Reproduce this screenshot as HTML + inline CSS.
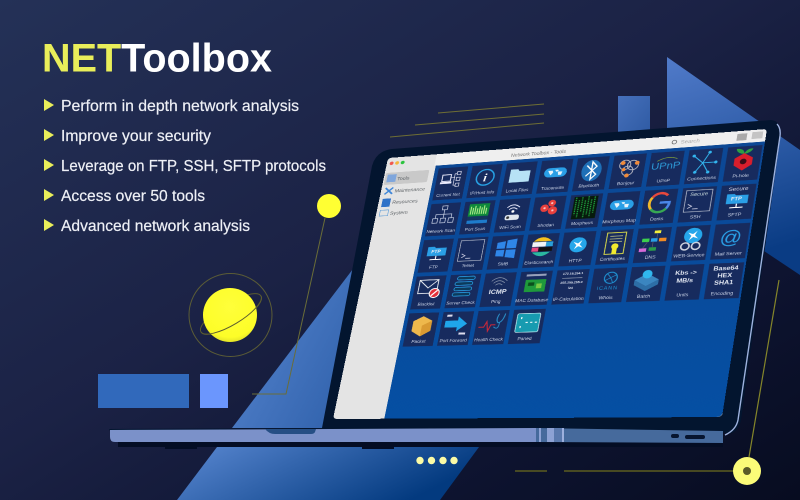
<!DOCTYPE html>
<html><head><meta charset="utf-8"><title>NET Toolbox</title>
<style>
html,body{margin:0;padding:0;background:#141a38}
#p{position:relative;width:800px;height:500px;overflow:hidden;font-family:"Liberation Sans",sans-serif}
#p>svg{position:absolute;left:0;top:0}
#w{position:absolute;left:0;top:0;width:500px;height:400px;transform-origin:0 0;
transform:matrix3d(0.6138,-0.08226,0,-0.000188,-0.16795,0.61418,0,-0.00009145,0,0,1,0,388,158,0,1)}
.l{font-size:6.4px;fill:#ccd5e8;text-anchor:middle;font-family:"Liberation Sans",sans-serif}
.s{font-size:7.6px;fill:#5f6468;font-family:"Liberation Sans",sans-serif}
.b{font-weight:bold;fill:#e6ebf5;text-anchor:middle;font-family:"Liberation Sans",sans-serif}
</style></head><body><div id="p">
<svg width="800" height="500" viewBox="0 0 800 500">
<defs>
<linearGradient id="bg" x1="0" y1="0" x2="1" y2="1"><stop offset="0" stop-color="#243157"/><stop offset=".45" stop-color="#1b2245"/><stop offset=".75" stop-color="#0e1431"/><stop offset="1" stop-color="#070c20"/></linearGradient>
<linearGradient id="t1" x1="0" y1="0" x2="1" y2=".5"><stop offset="0" stop-color="#5a88d2"/><stop offset="1" stop-color="#2c5ea8"/></linearGradient>
<linearGradient id="t2" x1="0" y1="0" x2="1" y2=".35"><stop offset="0" stop-color="#5a88d2"/><stop offset="1" stop-color="#033a7f"/></linearGradient>
<linearGradient id="t3" x1="0" y1="0" x2=".2" y2="1"><stop offset="0" stop-color="#517bca"/><stop offset="1" stop-color="#0a3c84"/></linearGradient>
<linearGradient id="sq" x1="0" y1="0" x2="1" y2="1"><stop offset="0" stop-color="#4670bb"/><stop offset="1" stop-color="#2e5aa3"/></linearGradient>
<radialGradient id="pl" cx=".5" cy=".35" r=".7"><stop offset="0" stop-color="#ffff3a"/><stop offset=".8" stop-color="#fdfd28"/><stop offset="1" stop-color="#d8d828"/></radialGradient>
</defs>
<rect width="800" height="500" fill="url(#bg)"/>
<polygon points="667,57 800,150 800,275 740,235 667,200" fill="url(#t3)"/>
<rect x="618" y="96" width="32" height="40" fill="url(#sq)"/>
<polygon points="356,265 232,428 400,428 400,265" fill="url(#t1)"/>
<polygon points="217,447 479,447 440,500 177,500" fill="url(#t2)"/>
<g stroke="#6e6e34" stroke-width="1" fill="none">
<line x1="438" y1="113" x2="544" y2="104"/><line x1="415" y1="125" x2="544" y2="114"/><line x1="390" y1="137" x2="544" y2="123"/>
</g>
<polyline points="325,218 286,394 252,394" fill="none" stroke="#6a6d38" stroke-width="1"/>
<circle cx="329" cy="206" r="12" fill="#ffff33"/>
<circle cx="230.500" cy="315" r="41.500" fill="none" stroke="#5b5c36" stroke-width="1"/>
<ellipse cx="231" cy="314" rx="35" ry="11" transform="rotate(-31 231 314)" fill="none" stroke="#5b5c30" stroke-width="1"/>
<circle cx="230" cy="315" r="27" fill="url(#pl)"/>
<path d="M201,332 A35,11 -31 0 0 261,296" fill="none" stroke="#5b5c30" stroke-width="1"/>
<rect x="98" y="374" width="91" height="34" fill="#3169bb"/>
<rect x="200" y="374" width="28" height="34" fill="#6b96fd"/>
<g fill="#fbfba6"><circle cx="420" cy="460.500" r="3.700"/><circle cx="431.500" cy="460.500" r="3.700"/><circle cx="443" cy="460.500" r="3.700"/><circle cx="454" cy="460.500" r="3.700"/></g>
<g stroke="#5c5d20" stroke-width="1.400" fill="none"><line x1="515" y1="471" x2="547" y2="471"/><line x1="564" y1="471" x2="735" y2="471"/></g>
<line x1="749" y1="457" x2="779" y2="280" stroke="#85862a" stroke-width="1.200"/>
<circle cx="747" cy="471" r="14" fill="#fbfb78"/><circle cx="747" cy="471" r="4" fill="#5a5a28"/>
<!-- laptop lid -->
<path d="M779,127 Q779,121 771,120 L392,149 Q376,151 372,166 L322,428 L732,433 Q739,430 741,420 L780,140 Z" fill="#03152f"/>
<path d="M777,124 Q781,128 780,136 L738,420 Q736,430 725,435" fill="none" stroke="#9db2de" stroke-width="1.400"/>
<!-- base -->
<rect x="118" y="441" width="605" height="6" fill="#040d24"/>
<rect x="165" y="446" width="32" height="3" fill="#040d24"/><rect x="362" y="446" width="32" height="3" fill="#040d24"/>
<path d="M109,429 L535,427 L535,430 L110,431 Z" fill="#03152f"/>
<path d="M110,430 L536,428 L536,442 L115,442 Q110,442 110,437 Z" fill="#7b91c9"/>
<path d="M536,428 L723,431 L723,443 L536,442 Z" fill="#466a9c"/>
<rect x="539" y="428" width="2" height="14" fill="#8da2d4"/><rect x="547" y="428" width="7" height="14" fill="#8da2d4"/><rect x="554" y="428" width="8" height="14" fill="#5a79ad"/><rect x="562" y="428" width="2" height="14" fill="#9db0dd"/>
<path d="M265,429 L316,429 L315,432 Q314,434 311,434 L275,434 Q269,434 265,429 Z" fill="#264f85"/>
<rect x="671" y="434" width="8" height="4" rx="2" fill="#07152f"/><rect x="685" y="435" width="20" height="4" rx="2" fill="#07152f"/>
<!-- text -->
<text x="42" y="71.500" font-size="40" font-weight="bold" textLength="230" lengthAdjust="spacingAndGlyphs"><tspan fill="#e9ee5a">NET</tspan><tspan fill="#fff">Toolbox</tspan></text>
<g fill="#eef0f6" font-size="16" stroke="#eef0f6" stroke-width=".2">
<text x="61" y="111" textLength="238" lengthAdjust="spacingAndGlyphs">Perform in depth network analysis</text>
<text x="61" y="141" textLength="150" lengthAdjust="spacingAndGlyphs">Improve your security</text>
<text x="61" y="171" textLength="265" lengthAdjust="spacingAndGlyphs">Leverage on FTP, SSH, SFTP protocols</text>
<text x="61" y="201" textLength="144" lengthAdjust="spacingAndGlyphs">Access over 50 tools</text>
<text x="61" y="231" textLength="189" lengthAdjust="spacingAndGlyphs">Advanced network analysis</text>
</g>
<g fill="#e9ee5a">
<polygon points="44,99 54,105 44,111"/><polygon points="44,129 54,135 44,141"/><polygon points="44,159 54,165 44,171"/><polygon points="44,189 54,195 44,201"/><polygon points="44,219 54,225 44,231"/>
</g>
</svg>
<div id="w"><svg width="500" height="400" viewBox="0 0 500 400">
<defs>
<linearGradient id="sc" x1="0" y1="0" x2="0" y2="1"><stop offset="0" stop-color="#0c4895"/><stop offset="1" stop-color="#054fa3"/></linearGradient>
<g id="tile"><rect width="41.400" height="49.600" fill="#172b5e"/></g>
<g id="map"><rect x="-15" y="-7" width="30" height="14" rx="7" fill="#2a9fe6"/><path d="M-10,-3 h6 l1,3 -3,4 -2,-3 z M-1,-4 h4 l1,2 -3,1 z M3,-1 h6 l-1,5 -4,0 z" fill="#e8f4fc"/></g>
<g id="cir"><circle r="11" fill="#25a6ea"/><path d="M0,-8 L1.500,-1.500 L8,0 L1.500,1.500 L0,8 L-1.500,1.500 L-8,0 L-1.500,-1.500 Z" fill="#fff" transform="rotate(35)"/></g>
<g id="ftp"><path d="M-13,-8 h9 l2,2 h15 v12 h-26 z" fill="#2a9fe6"/><line x1="0" y1="6" x2="0" y2="11" stroke="#fff" stroke-width="1.500"/><line x1="-8" y1="11.500" x2="8" y2="11.500" stroke="#fff" stroke-width="1.500"/></g>
</defs>
<rect width="500" height="400" rx="5" fill="#e4e4e4"/>
<path d="M70,0 H495 Q500,0 500,5 V18 H70 Z" fill="#efefef"/>
<path d="M72,18 H500 V393 Q500,400 493,400 H72 Z" fill="url(#sc)"/>
<circle cx="7" cy="9" r="2.800" fill="#f0584f"/><circle cx="15" cy="9" r="2.800" fill="#f5b63a"/><circle cx="23" cy="9" r="2.800" fill="#2cc43f"/>
<rect x="2" y="24" width="62" height="19" rx="2" fill="#c9c9c9"/>
<rect x="5" y="27" width="13" height="12" fill="#7fa6dc"/>
<path d="M6,48 l11,10 M17,48 l-11,10" stroke="#3e86d8" stroke-width="2.500"/>
<rect x="5" y="65" width="12" height="13" fill="#2f72c8"/>
<rect x="5" y="83" width="12" height="9" fill="none" stroke="#6aa3d8"/>
<g class="s"><text x="20" y="37">Tools</text><text x="20" y="56">Maintenance</text><text x="20" y="74">Resources</text><text x="20" y="91">System</text></g>
<text x="212" y="13" text-anchor="middle" font-size="7" fill="#777">Network Toolbox - Tools</text>
<circle cx="388" cy="9" r="2.800" fill="none" stroke="#666" stroke-width="1"/>
<text x="396" y="12" font-size="7.500" fill="#aaa">Search</text>
<rect x="465" y="4" width="12" height="10" fill="#a9a9a9"/><rect x="483" y="3" width="13" height="10" fill="#c4c4c4"/>

<g transform="translate(1.500 2.500)">
<!-- row 0 -->
<g transform="translate(75.600 20.400)"><use href="#tile"/><rect x="8" y="11" width="12" height="10" fill="none" stroke="#eef" stroke-width="1.400"/><rect x="6" y="22" width="16" height="3" fill="#eef"/><g fill="none" stroke="#dde" stroke-width="1"><rect x="28" y="7" width="5" height="5"/><rect x="28" y="16" width="5" height="5"/><rect x="28" y="25" width="5" height="5"/><path d="M20,16 h6 M25,10 v18 h3 M25,10 h3"/></g><text class="l" x="20.700" y="44.500">Current Net</text></g>
<g transform="translate(123 20.400)"><use href="#tile"/><circle cx="20.700" cy="19" r="12" fill="none" stroke="#27a3e6" stroke-width="2"/><text x="20.700" y="25" text-anchor="middle" font-size="17" font-weight="bold" font-style="italic" font-family="Liberation Serif,serif" fill="#fff">i</text><text class="l" x="20.700" y="44.500">IP/Host Info</text></g>
<g transform="translate(170.400 20.400)"><use href="#tile"/><path d="M7,10 h10 l2,3 h15 v17 h-27 z" fill="#b7e2f5"/><text class="l" x="20.700" y="44.500">Local Files</text></g>
<g transform="translate(217.800 20.400)"><use href="#tile"/><use href="#map" x="20.700" y="19"/><text class="l" x="20.700" y="44.500">Traceroute</text></g>
<g transform="translate(265.200 20.400)"><use href="#tile"/><ellipse cx="20.700" cy="20" rx="13" ry="16" fill="#1e6fb7"/><path d="M14,12 L27,26 L20.700,33 V7 L27,14 L14,28" fill="none" stroke="#fff" stroke-width="1.800"/><text class="l" x="20.700" y="44.500">Bluetooth</text></g>
<g transform="translate(312.600 20.400)"><use href="#tile"/><g fill="none" stroke="#b9b9c4" stroke-width="1.200"><circle cx="16" cy="15" r="7"/><circle cx="26" cy="16" r="7"/><circle cx="20" cy="24" r="7"/></g><g fill="#ef8a3a"><circle cx="13" cy="12" r="3"/><circle cx="31" cy="13" r="3"/><circle cx="20" cy="31" r="3"/><circle cx="15" cy="22" r="2.500"/></g><text class="l" x="20.700" y="44.500">Bonjour</text></g>
<g transform="translate(360 20.400)"><use href="#tile"/><text x="20.700" y="25" text-anchor="middle" font-size="14" fill="#2d9bd8">UPnP</text><path d="M9,13 Q22,5 34,11" fill="none" stroke="#7fa03c"/><text class="l" x="20.700" y="44.500">UPnP</text></g>
<g transform="translate(407.400 20.400)"><use href="#tile"/><g stroke="#33b5ee" stroke-width="1.300" fill="#33b5ee"><path d="M19,20 L26,5 M19,20 L35,20 M19,20 L27,34 M19,20 L11,33 M19,20 L7,9" fill="none"/><circle cx="26" cy="5" r="1.500"/><circle cx="35" cy="20" r="1.500"/><circle cx="27" cy="34" r="1.500"/><circle cx="11" cy="33" r="1.500"/><circle cx="7" cy="9" r="1.500"/></g><text class="l" x="20.700" y="44.500">Connections</text></g>
<g transform="translate(454.800 20.400)"><use href="#tile"/><path d="M20,11 Q11,9 11,3 Q20,3 21,10 Q24,3 31,4 Q29,10 21,11 Z" fill="#2ea043"/><polygon points="21,10 32,17 32,27 21,35 10,27 10,17" fill="#d81e2c"/><circle cx="21" cy="22" r="4" fill="#3a0d18"/><text class="l" x="20.700" y="44.500">Pi-hole</text></g>
<!-- row 1 -->
<g transform="translate(75.600 75.800)"><use href="#tile"/><g fill="none" stroke="#c9d2e6" stroke-width="1"><rect x="17" y="4" width="7" height="6"/><rect x="6" y="23" width="7" height="7"/><rect x="17" y="23" width="7" height="7"/><rect x="28" y="23" width="7" height="7"/><path d="M20.500,10 V23 M9.500,23 V17 H31.500 V23"/></g><text class="l" x="20.700" y="44.500">Network Scan</text></g>
<g transform="translate(123 75.800)"><use href="#tile"/><rect x="7" y="4" width="28" height="19" fill="#0f8a3b"/><path d="M10,20 V8 M13,20 V10 M16,20 V7 M19,20 V11 M22,20 V8 M25,20 V10 M28,20 V7 M31,20 V11" stroke="#b6f08c" stroke-width="1.500"/><rect x="7" y="23" width="28" height="5" fill="#15365f"/><rect x="7" y="29" width="28" height="5" fill="#1e7ccb"/><text class="l" x="20.700" y="44.500">Port Scan</text></g>
<g transform="translate(170.400 75.800)"><use href="#tile"/><g fill="none" stroke="#eef" stroke-width="1.300"><path d="M12,13 Q20,5 29,13"/><path d="M15,16 Q20,11 26,16"/></g><circle cx="20.500" cy="19" r="2" fill="#fff"/><rect x="11" y="24" width="19" height="8" rx="3" fill="#dfe6ee"/><circle cx="15" cy="28" r="2" fill="#333"/><text class="l" x="20.700" y="44.500">WiFi Scan</text></g>
<g transform="translate(217.800 75.800)"><use href="#tile"/><g fill="#e8403d"><circle cx="24" cy="10" r="5"/><circle cx="15" cy="17" r="5.500"/><circle cx="26" cy="21" r="6"/></g><g fill="#fff" opacity=".7"><circle cx="24" cy="10" r="1.500"/><circle cx="15" cy="17" r="1.500"/><circle cx="26" cy="21" r="1.500"/></g><text class="l" x="20.700" y="44.500">Shodan</text></g>
<g transform="translate(265.200 75.800)"><use href="#tile"/><rect x="5" y="3" width="31" height="33" fill="#071a0c"/><path d="M8,4 V30 M12,8 V34 M16,4 V26 M20,9 V35 M24,3 V30 M28,8 V34 M32,4 V28" stroke="#1f9a3c" stroke-width="1.800" stroke-dasharray="2 1.200"/><text class="l" x="20.700" y="44.500">Morpheus</text></g>
<g transform="translate(312.600 75.800)"><use href="#tile"/><use href="#map" x="20.700" y="19"/><text class="l" x="20.700" y="44.500">Morpheus Map</text></g>
<g transform="translate(360 75.800)"><use href="#tile"/><g fill="none" stroke-width="3.500"><path d="M30,9 A12,12 0 0 0 11,11" stroke="#e8483c"/><path d="M11,11 A12,13 0 0 0 11,28" stroke="#f0b92b"/><path d="M11,28 A12,12 0 0 0 30,28" stroke="#37a853"/><path d="M30,28 Q33,24 33,19 H21" stroke="#4a87e8"/></g><text class="l" x="20.700" y="44.500">Dorks</text></g>
<g transform="translate(407.400 75.800)"><use href="#tile"/><rect x="5" y="4" width="32" height="31" fill="none" stroke="#aeb6c8" stroke-width="1"/><text x="21" y="12" text-anchor="middle" font-size="7" fill="#cdd">Secure</text><path d="M9,24 l5,3 -5,3 M15,31 h7" fill="none" stroke="#dde" stroke-width="1"/><text class="l" x="20.700" y="44.500">SSH</text></g>
<g transform="translate(454.800 75.800)"><use href="#tile"/><text x="20.700" y="8" text-anchor="middle" font-size="7.500" fill="#dde">Secure</text><g transform="translate(21 21)"><use href="#ftp"/></g><text x="20" y="22" class="b" font-size="7">FTP</text><text class="l" x="20.700" y="44.500">SFTP</text></g>
<!-- row 2 -->
<g transform="translate(75.600 131.200)"><use href="#tile"/><g transform="translate(21 19)"><use href="#ftp"/></g><text x="20" y="21" class="b" font-size="7">FTP</text><text class="l" x="20.700" y="44.500">FTP</text></g>
<g transform="translate(123 131.200)"><use href="#tile"/><rect x="5" y="4" width="32" height="31" fill="none" stroke="#aeb6c8"/><path d="M9,24 l5,3 -5,3 M15,31 h7" fill="none" stroke="#dde"/><text class="l" x="20.700" y="44.500">Telnet</text></g>
<g transform="translate(170.400 131.200)"><use href="#tile"/><g fill="#2f86e8"><polygon points="8,10 19,8 19,19 8,19"/><polygon points="21,7 34,5 34,19 21,19"/><polygon points="8,21 19,21 19,31 8,30"/><polygon points="21,21 34,21 34,34 21,32"/></g><text class="l" x="20.700" y="44.500">SMB</text></g>
<g transform="translate(217.800 131.200)"><use href="#tile"/><path d="M9,11 Q20,-1 33,11 Z" fill="#f5c11d"/><rect x="8" y="12" width="18" height="7" fill="#f2f4f6"/><rect x="26" y="12" width="9" height="7" fill="#2a9fd8"/><rect x="8" y="20" width="9" height="6" fill="#e8487f"/><rect x="17" y="20" width="18" height="6" fill="#111"/><path d="M9,27 H33 Q21,39 9,27 Z" fill="#2bb8a0"/><text class="l" x="20.700" y="44.500">Elasticsearch</text></g>
<g transform="translate(265.200 131.200)"><use href="#tile"/><use href="#cir" x="20.700" y="19"/><text class="l" x="20.700" y="44.500">HTTP</text></g>
<g transform="translate(312.600 131.200)"><use href="#tile"/><rect x="9" y="4" width="24" height="31" fill="none" stroke="#d9d94a" stroke-width="1.300"/><path d="M13,9 h16 M13,13 h16 M13,17 h16" stroke="#cfd083" stroke-width="1"/><circle cx="21" cy="24" r="4.500" fill="#f2ea2e"/><rect x="18" y="27" width="6" height="8" fill="#f2ea2e"/><text class="l" x="20.700" y="44.500">Certificates</text></g>
<g transform="translate(360 131.200)"><use href="#tile"/><rect x="21" y="4" width="8" height="4" fill="#f3ef3c"/><rect x="7" y="15" width="9" height="5" fill="#3ccf4e"/><rect x="18" y="15" width="8" height="5" fill="#2a9fe6"/><rect x="28" y="15" width="9" height="5" fill="#f08a24"/><rect x="5" y="29" width="9" height="5" fill="#d56ad9"/><rect x="17" y="28" width="9" height="5" fill="#2a9d4a"/><path d="M25,8 V15 M14,20 L9,29 M21,20 V28" stroke="#556" fill="none"/><text class="l" x="20.700" y="44.500">DNS</text></g>
<g transform="translate(407.400 131.200)"><use href="#tile"/><use href="#cir" x="22" y="14"/><g fill="none" stroke="#cfd5df" stroke-width="2"><circle cx="14" cy="29" r="5"/><circle cx="27" cy="29" r="5"/></g><text class="l" x="20.700" y="44.500">WEB-Service</text></g>
<g transform="translate(454.800 131.200)"><use href="#tile"/><text x="20.700" y="28" text-anchor="middle" font-size="26" fill="#2a9fe6">@</text><text class="l" x="20.700" y="44.500">Mail Server</text></g>
<!-- row 3 -->
<g transform="translate(75.600 186.600)"><use href="#tile"/><rect x="6" y="6" width="26" height="20" fill="none" stroke="#e8ecf2" stroke-width="1.300"/><path d="M6,6 L19,18 L32,6" fill="none" stroke="#e8ecf2" stroke-width="1.300"/><circle cx="29" cy="26" r="7.500" fill="#fff"/><circle cx="29" cy="26" r="6" fill="#e0303a"/><path d="M25,30 L33,22" stroke="#fff" stroke-width="2"/><text class="l" x="20.700" y="44.500">Blacklist</text></g>
<g transform="translate(123 186.600)"><use href="#tile"/><g fill="#0c3a5c" stroke="#2a9fe6" stroke-width="1.100"><rect x="10" y="3" width="24" height="5" rx="2.500"/><rect x="8" y="11" width="24" height="5" rx="2.500"/><rect x="8" y="19" width="24" height="5" rx="2.500"/><rect x="7" y="27" width="24" height="5" rx="2.500"/></g><text class="l" x="20.700" y="44.500">Server Check</text></g>
<g transform="translate(170.400 186.600)"><use href="#tile"/><g fill="none" stroke="#8e9ab0" stroke-width="1"><path d="M10,12 Q20,2 31,12"/><path d="M13,15 Q20,8 28,15"/><path d="M16,18 Q20,14 25,18"/></g><text x="20.700" y="31" class="b" font-size="9.500">ICMP</text><text class="l" x="20.700" y="44.500">Ping</text></g>
<g transform="translate(217.800 186.600)"><use href="#tile"/><rect x="8" y="4" width="26" height="3" fill="#cfd6e4" opacity=".7"/><rect x="8" y="12" width="27" height="18" fill="#1f9a3c"/><rect x="12" y="16" width="8" height="5" fill="#0a4f1c"/><rect x="23" y="18" width="7" height="7" fill="#7ac943"/><text class="l" x="20.700" y="44.500">MAC Database</text></g>
<g transform="translate(265.200 186.600)"><use href="#tile"/><g fill="#dfe5f0" font-size="4.500" font-weight="bold" text-anchor="middle"><text x="21" y="7">172.16.254.1</text><text x="21" y="20">255.255.255.0</text><text x="21" y="28">/24</text></g><line x1="8" y1="12" x2="34" y2="12" stroke="#8e9ab0"/><text class="l" x="20.700" y="44.500">IP-Calculation</text></g>
<g transform="translate(312.600 186.600)"><use href="#tile"/><circle cx="23" cy="14" r="8" fill="none" stroke="#1f8fd0" stroke-width="1.500"/><path d="M16,18 Q24,13 30,10 M18,8 Q24,14 26,21" fill="none" stroke="#1f8fd0"/><text x="20.700" y="31" text-anchor="middle" font-size="7" letter-spacing="1" fill="#1f8fd0">ICANN</text><text class="l" x="20.700" y="44.500">Whois</text></g>
<g transform="translate(360 186.600)"><use href="#tile"/><path d="M6,19 L21,28 L36,19 V26 L21,35 L6,26 Z" fill="#2d6ea6"/><path d="M6,19 L21,10 L36,19 L21,28 Z" fill="#3b86c0"/><circle cx="21" cy="11" r="6" fill="#30b7ee"/><text class="l" x="20.700" y="44.500">Batch</text></g>
<g transform="translate(407.400 186.600)"><use href="#tile"/><text x="20.700" y="14" class="b" font-size="8.500">Kbs -&gt;</text><text x="20.700" y="25" class="b" font-size="8.500">MB/s</text><text class="l" x="20.700" y="44.500">Units</text></g>
<g transform="translate(454.800 186.600)"><use href="#tile"/><text x="20.700" y="10" class="b" font-size="8.500">Base64</text><text x="20.700" y="20" class="b" font-size="8.500">HEX</text><text x="20.700" y="30" class="b" font-size="8.500">SHA1</text><text class="l" x="20.700" y="44.500">Encoding</text></g>
<!-- row 4 -->
<g transform="translate(75.600 242)"><use href="#tile"/><polygon points="21,5 34,12 34,27 21,35 8,27 8,12" fill="#eeb84c"/><polygon points="21,19 34,12 34,27 21,35" fill="#d99a32"/><text class="l" x="20.700" y="44.500">Packet</text></g>
<g transform="translate(123 242)"><use href="#tile"/><polygon points="5,13 22,13 22,7 35,18 22,29 22,23 5,23" fill="#1fa6ea"/><rect x="6" y="4" width="7" height="3" fill="#dde"/><rect x="26" y="31" width="9" height="3" fill="#dde"/><text class="l" x="20.700" y="44.500">Port Forward</text></g>
<g transform="translate(170.400 242)"><use href="#tile"/><path d="M4,24 h7 l3,-8 3,14 3,-9 h6" fill="none" stroke="#c9283a" stroke-width="1.500"/><path d="M29,5 Q25,14 29,18 Q35,18 37,5" fill="none" stroke="#2a8fc8" stroke-width="1.500"/><path d="M31,18 Q31,30 24,24" fill="none" stroke="#2a8fc8" stroke-width="1.200"/><text class="l" x="20.700" y="44.500">Health Check</text></g>
<g transform="translate(217.800 242)"><use href="#tile"/><rect x="6" y="6" width="30" height="27" rx="2" fill="#179bb0" stroke="#bfe8ee" stroke-width="1"/><path d="M12,11 v3 M12,24 v3 M18,19 h3 M24,19 h3 M30,19 h3" stroke="#fff" stroke-width="1.500"/><text class="l" x="20.700" y="44.500">Paned</text></g>
</g>
</svg></div>
</div></body></html>
